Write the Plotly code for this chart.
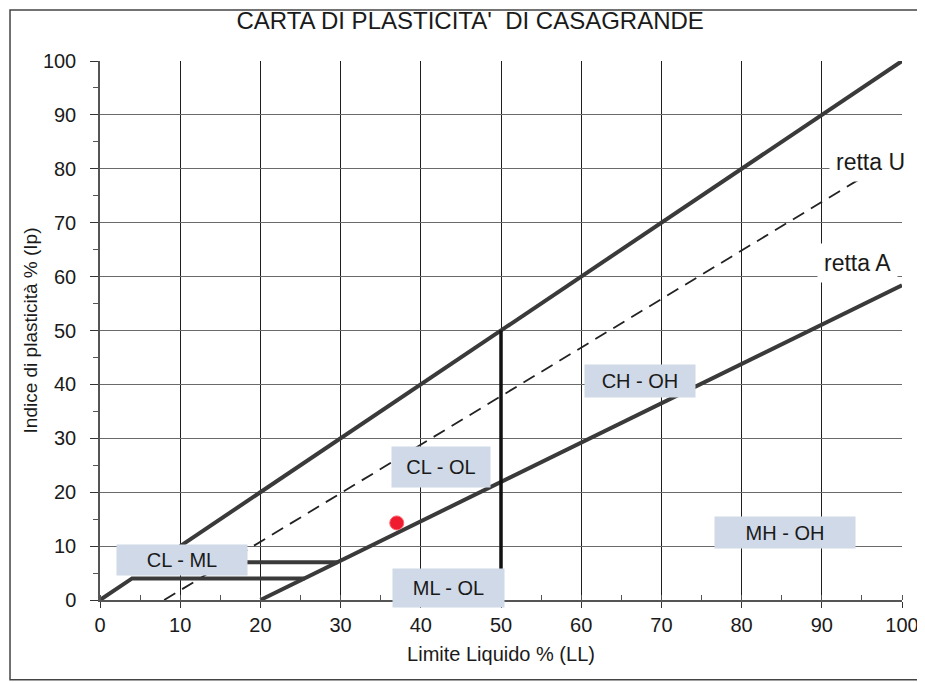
import plotly.graph_objects as go

# ---- data ----
x_ticks = [0, 10, 20, 30, 40, 50, 60, 70, 80, 90, 100]
y_ticks = [0, 10, 20, 30, 40, 50, 60, 70, 80, 90, 100]

upper_x = [10, 100]
upper_y = [10, 100]
retta_u_x = [8, 94.5]
retta_u_y = [0, 77.9]
retta_a_x = [20, 100]
retta_a_y = [0, 58.4]
zone4_x = [0, 4, 25.5]
zone4_y = [0, 4, 4]
zone7_x = [7, 29.6]
zone7_y = [7, 7]
ll50_x = [50, 50]
ll50_y = [50, 0]
sample_ll = [37]
sample_ip = [14.3]

zone_labels = ["CL - ML", "ML - OL", "CL - OL", "CH - OH", "MH - OH"]
zone_lab_x = [10.2, 43.5, 42.5, 67.3, 85.4]
zone_lab_y = [7.4, 2.2, 24.7, 40.6, 12.6]
zone_lab_w = [126, 107, 94, 106, 136]
zone_lab_h = [26, 34, 36, 28, 27]

line_labels = ["retta U", "retta A"]
line_lab_x = [96.1, 94.5]
line_lab_y = [81.3, 62.5]

FONT = "Liberation Sans, Arial, sans-serif"
LINE_COL = "#3a3a3a"

fig = go.Figure()

def add_line(xs, ys, width, color=LINE_COL, dash="solid"):
    fig.add_trace(go.Scatter(x=xs, y=ys, mode="lines",
                             line=dict(color=color, width=width, dash=dash),
                             hoverinfo="skip", showlegend=False))

add_line(upper_x, upper_y, 4)
add_line(retta_u_x, retta_u_y, 1.8, color="#222222", dash="13px,8px")
add_line(retta_a_x, retta_a_y, 4)
add_line(zone4_x, zone4_y, 4)
add_line(zone7_x, zone7_y, 4)
add_line(ll50_x, ll50_y, 3.5, color="#111111")

fig.add_trace(go.Scatter(x=sample_ll, y=sample_ip, mode="markers",
                         marker=dict(color="#ee1c2e", size=14,
                                     line=dict(color="#ff6070", width=1)),
                         showlegend=False))

annotations = []
for t, x, y, w, h in zip(zone_labels, zone_lab_x, zone_lab_y, zone_lab_w, zone_lab_h):
    annotations.append(dict(x=x, y=y, xref="x", yref="y", text=t, showarrow=False,
                            font=dict(family=FONT, size=20, color="#1a1a1a"),
                            bgcolor="#d0d9e7", width=w, height=h, borderpad=2,
                            align="center", valign="middle"))
for t, x, y in zip(line_labels, line_lab_x, line_lab_y):
    annotations.append(dict(x=x, y=y, xref="x", yref="y", text=t, showarrow=False,
                            font=dict(family=FONT, size=23, color="#1a1a1a"),
                            bgcolor="white", borderpad=6))

# page body adds an 8px margin, so the figure is sized/margined to compensate
fig.update_layout(
    width=917, height=674,
    margin=dict(l=92, r=23, t=53, b=82, autoexpand=False),
    paper_bgcolor="white", plot_bgcolor="white",
    font=dict(family=FONT, color="#1a1a1a"),
    title=dict(text="CARTA DI PLASTICITA'&nbsp;&nbsp;DI CASAGRANDE",
               x=0.504, xanchor="center", xref="container",
               y=0.982, yanchor="middle", yref="container",
               font=dict(family=FONT, size=24, color="#1a1a1a")),
    annotations=annotations,
    shapes=[
        dict(type="rect", xref="paper", yref="paper", layer="below",
             x0=-0.1122, x1=1.05, y0=-0.148, y1=1.0946,
             line=dict(color="#444444", width=1.5)),
    ],
)

fig.update_xaxes(range=[0, 100], tickvals=x_ticks, ticktext=[str(v) for v in x_ticks],
                 showgrid=True, gridcolor="#1e1e1e", gridwidth=1.4,
                 showline=True, linecolor="#555555", linewidth=1.5,
                 ticks="outside", ticklen=6, tickcolor="#333333",
                 minor=dict(dtick=5, ticks="inside", ticklen=5, tickcolor="#555555", showgrid=False),
                 tickfont=dict(family=FONT, size=20, color="#1a1a1a"),
                 ticklabelstandoff=0, automargin=False,
                 title=dict(text="Limite Liquido % (LL)", standoff=12,
                            font=dict(family=FONT, size=20, color="#1a1a1a")),
                 zeroline=False, fixedrange=True)
fig.update_yaxes(range=[0, 100], tickvals=y_ticks, ticktext=[str(v) for v in y_ticks],
                 showgrid=True, gridcolor="#6a6a6a", gridwidth=1,
                 showline=True, linecolor="#555555", linewidth=1.5,
                 ticks="outside", ticklen=8, tickcolor="#333333",
                 minor=dict(dtick=5, ticks="outside", ticklen=5, tickcolor="#555555", showgrid=False),
                 tickfont=dict(family=FONT, size=20, color="#1a1a1a"),
                 ticklabelstandoff=10, automargin=False,
                 title=dict(text="Indice di plasticità % (Ip)", standoff=0,
                            font=dict(family=FONT, size=19, color="#1a1a1a")),
                 zeroline=False, fixedrange=True)

fig.write_html("out.html")
